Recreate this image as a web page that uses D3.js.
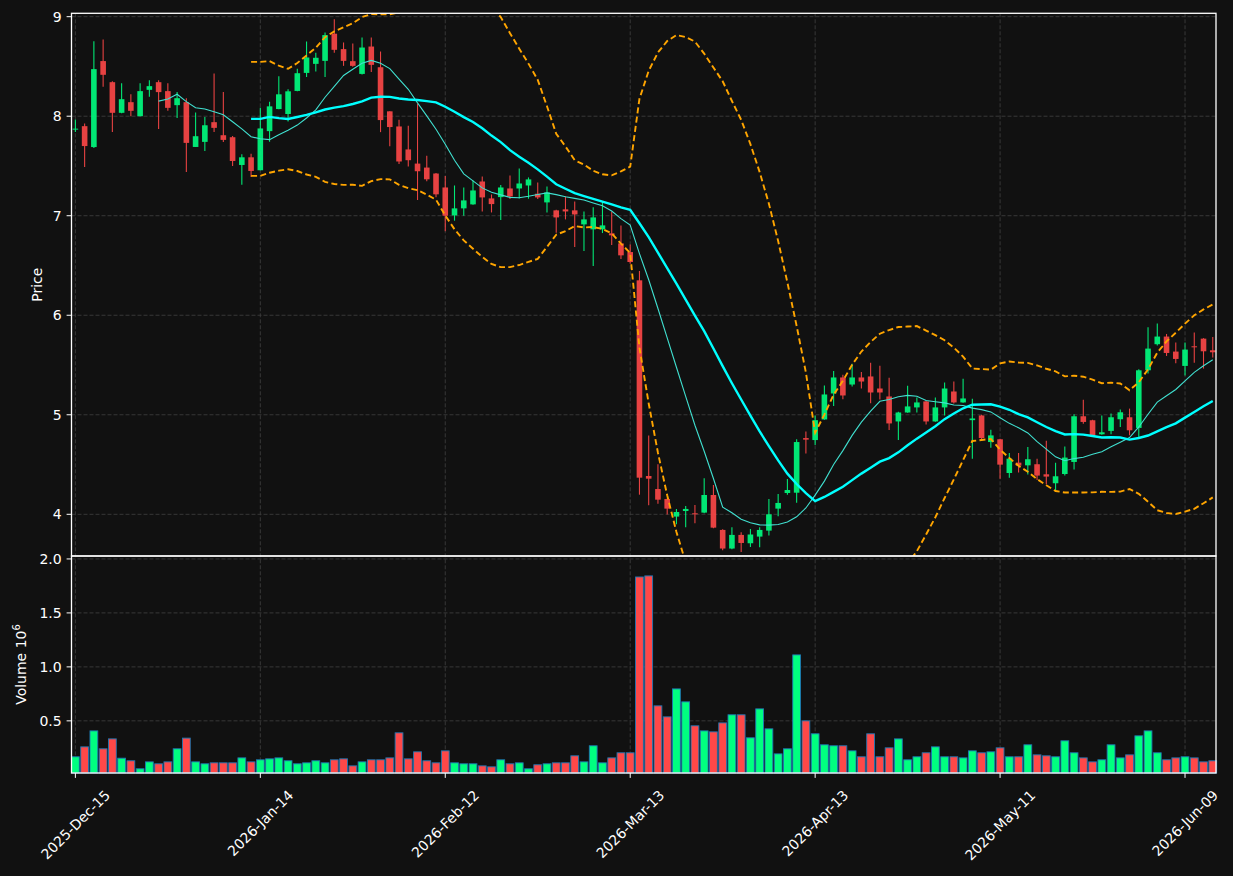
<!DOCTYPE html>
<html>
<head>
<meta charset="utf-8">
<script src="https://cdn.jsdelivr.net/npm/d3@7"></script>
<style>
html, body { margin: 0; padding: 0; background: #111111; }
svg { display: block; font-family: "DejaVu Sans", sans-serif; }
</style>
</head>
<body>
<svg id="chart" width="1233" height="876"></svg>
<script>
// daily candles, one entry per trading day (index 0 = 2025-Dec-15)
var opens = [7.87,7.90,7.69,8.554,8.342,8.034,8.141,8.0,8.265,8.342,
  8.252,8.111,8.141,7.691,7.742,7.94,7.809,7.789,7.51,7.587,
  7.457,7.85,8.072,8.022,8.254,8.435,8.526,8.556,8.829,8.674,
  8.553,8.425,8.70,8.492,8.049,7.897,7.666,7.524,7.484,7.424,
  7.284,7.003,7.074,7.114,7.344,7.174,7.187,7.274,7.274,7.304,
  7.221,7.134,7.054,7.064,7.054,6.913,6.863,6.863,6.823,6.722,
  6.635,6.351,4.385,4.254,4.154,3.977,4.033,4.010,4.017,4.194,
  3.843,3.656,3.793,3.709,3.776,3.836,4.057,4.214,4.217,4.766,
  4.746,4.953,5.214,5.375,5.304,5.375,5.385,5.264,5.184,4.933,
  5.023,5.074,5.134,4.933,5.074,5.234,5.124,4.946,4.993,4.726,
  4.754,4.415,4.519,4.492,4.503,4.402,4.312,4.405,4.526,4.985,
  4.945,4.804,4.838,4.955,4.975,4.868,5.447,5.709,5.786,5.635,
  5.491,5.688,5.765,5.648];
var highs = [7.966,7.926,8.752,8.772,8.35,8.332,8.221,8.332,8.362,8.362,
  8.332,8.242,8.181,8.037,7.993,8.43,8.242,7.80,7.617,7.624,
  8.086,8.146,8.402,8.27,8.476,8.751,8.637,8.842,8.973,8.741,
  8.731,8.79,8.79,8.65,8.05,7.965,7.904,8.126,7.602,7.43,
  7.398,7.304,7.284,7.355,7.395,7.214,7.308,7.405,7.475,7.385,
  7.334,7.294,7.06,7.194,7.144,7.043,7.084,7.144,7.043,6.903,
  6.712,6.445,4.793,4.502,4.16,4.054,4.084,4.094,4.361,4.294,
  3.85,3.87,3.82,3.853,3.87,4.154,4.204,4.355,4.753,4.833,
  4.993,5.294,5.441,5.401,5.512,5.431,5.522,5.492,5.371,5.03,
  5.291,5.174,5.14,5.174,5.324,5.334,5.361,5.161,5.0,4.849,
  4.76,4.616,4.616,4.677,4.559,4.74,4.519,4.68,5.005,5.152,
  4.95,4.992,5.012,5.052,5.062,5.457,5.879,5.916,5.812,5.725,
  5.725,5.826,5.77,5.782];
var lows = [7.842,7.49,7.68,8.295,7.842,8.03,8.0,8.0,8.195,7.872,
  8.054,7.983,7.44,7.69,7.651,7.842,7.742,7.50,7.312,7.389,
  7.457,7.743,8.07,7.948,8.25,8.395,8.449,8.395,8.637,8.506,
  8.496,8.418,8.445,7.84,7.699,7.521,7.494,7.158,7.346,7.185,
  6.845,6.95,7.0,7.11,7.043,7.033,6.957,7.167,7.174,7.171,
  7.167,7.033,6.829,6.963,6.686,6.645,6.495,6.826,6.706,6.565,
  6.518,4.197,4.09,4.107,3.997,3.90,3.87,3.91,4.01,3.86,
  3.64,3.65,3.62,3.672,3.67,3.786,3.98,4.197,4.117,4.612,
  4.696,4.95,5.087,5.157,5.284,5.264,5.117,5.154,4.846,4.746,
  5.02,5.023,4.903,4.93,4.993,5.114,5.12,4.559,4.742,4.669,
  4.358,4.368,4.419,4.40,4.345,4.302,4.241,4.389,4.449,4.911,
  4.777,4.80,4.804,4.878,4.794,4.777,5.414,5.695,5.591,5.518,
  5.394,5.524,5.464,5.575];
var closes = [7.875,7.70,8.473,8.416,8.034,8.171,8.054,8.252,8.302,8.242,
  8.084,8.181,7.732,7.799,7.909,7.883,7.762,7.55,7.587,7.45,
  7.877,8.099,8.22,8.25,8.432,8.59,8.587,8.815,8.667,8.556,
  8.506,8.69,8.516,7.961,7.891,7.545,7.558,7.447,7.366,7.215,
  7.0,7.074,7.154,7.254,7.184,7.117,7.284,7.194,7.324,7.365,
  7.184,7.234,6.983,7.043,7.013,6.963,6.983,6.903,6.803,6.602,
  6.535,4.368,4.358,4.147,4.057,4.023,4.054,4.0,4.194,3.866,
  3.656,3.793,3.712,3.797,3.843,4.0,4.114,4.244,4.726,4.75,
  4.946,5.204,5.375,5.194,5.375,5.334,5.224,5.224,4.913,5.023,
  5.084,5.124,4.933,5.074,5.264,5.124,5.164,4.963,4.766,4.793,
  4.499,4.559,4.489,4.553,4.389,4.379,4.382,4.570,4.985,4.928,
  4.794,4.824,4.975,5.025,4.844,5.447,5.665,5.786,5.621,5.561,
  5.655,5.678,5.638,5.628];
// volume in millions
var volumes = [0.167,0.259,0.407,0.241,0.333,0.154,0.130,0.056,0.120,0.102,
  0.120,0.241,0.340,0.120,0.102,0.111,0.111,0.111,0.157,0.120,
  0.139,0.148,0.157,0.130,0.102,0.111,0.130,0.111,0.139,0.148,
  0.083,0.120,0.139,0.139,0.157,0.389,0.148,0.213,0.130,0.111,
  0.222,0.111,0.102,0.102,0.083,0.074,0.139,0.102,0.111,0.056,
  0.093,0.102,0.111,0.111,0.176,0.120,0.269,0.111,0.157,0.204,
  0.204,1.833,1.843,0.639,0.537,0.796,0.676,0.454,0.407,0.398,
  0.481,0.556,0.556,0.343,0.611,0.426,0.194,0.241,1.111,0.500,
  0.380,0.278,0.269,0.269,0.222,0.167,0.380,0.167,0.250,0.333,
  0.139,0.167,0.204,0.259,0.167,0.167,0.157,0.222,0.204,0.213,
  0.250,0.167,0.167,0.278,0.185,0.176,0.167,0.315,0.204,0.157,
  0.120,0.139,0.278,0.157,0.185,0.361,0.407,0.204,0.139,0.157,
  0.167,0.157,0.120,0.130];

var tickIdx = [0, 20, 40, 60, 80, 100, 120];
var tickLabels = ["2025-Dec-15", "2026-Jan-14", "2026-Feb-12", "2026-Mar-13",
  "2026-Apr-13", "2026-May-11", "2026-Jun-09"];
var priceTicks = [4, 5, 6, 7, 8, 9];
var volTicks = [0.5, 1.0, 1.5, 2.0];

var upColor = "#00ff80", downColor = "#ff4848";

var svg = d3.select("#chart");
var W = 1233, H = 876;
svg.append("rect").attr("width", W).attr("height", H).attr("fill", "#111111");

var left = 71.5, right = 1216;
var pTop = 13.3, pBot = 556, vTop = 556, vBot = 773;

var n = closes.length;
var candles = d3.range(n).map(function (i) {
    return { i: i, o: opens[i], h: highs[i], l: lows[i], c: closes[i], v: volumes[i] };
});

var x = d3.scaleLinear().domain([-0.42, 123.35]).range([left, right]);
var yP = d3.scaleLinear().domain([3.581, 9.034]).range([pBot, pTop]);
var yV = d3.scaleLinear()
    .domain([d3.min(volumes) * 0.3, d3.max(volumes) * 1.1])
    .range([vBot, vTop]);

// moving averages and bands on the close
function rolling(arr, win, fn) {
    return arr.map(function (v, i) {
        return i < win - 1 ? null : fn(arr.slice(i - win + 1, i + 1));
    });
}
var ma10 = rolling(closes, 10, d3.mean);
var ma20 = rolling(closes, 20, d3.mean);
var sd20 = rolling(closes, 20, function (w) {
    var m = d3.mean(w);
    return Math.sqrt(d3.mean(w, function (v) { return (v - m) * (v - m); }));
});
var bbUp = ma20.map(function (m, i) { return m == null ? null : m + 2 * sd20[i]; });
var bbLo = ma20.map(function (m, i) { return m == null ? null : m - 2 * sd20[i]; });

var defs = svg.append("defs");
defs.append("clipPath").attr("id", "clipP").append("rect")
    .attr("x", left).attr("y", pTop).attr("width", right - left).attr("height", pBot - pTop);

var gridColor = "#3c3c3c";

// grid
var grid = svg.append("g");
priceTicks.forEach(function (t) {
    grid.append("line").attr("x1", left).attr("x2", right)
        .attr("y1", yP(t)).attr("y2", yP(t));
});
volTicks.forEach(function (t) {
    grid.append("line").attr("x1", left).attr("x2", right)
        .attr("y1", yV(t)).attr("y2", yV(t));
});
tickIdx.forEach(function (t) {
    grid.append("line").attr("x1", x(t)).attr("x2", x(t))
        .attr("y1", pTop).attr("y2", vBot);
});
grid.selectAll("line").attr("stroke", gridColor).attr("stroke-width", 0.9)
    .attr("stroke-dasharray", "4,2");

// candles
var cg = svg.append("g").attr("clip-path", "url(#clipP)");
var bw = 5.6;
var cand = cg.selectAll(".candle").data(candles).enter().append("g")
    .attr("class", "candle")
    .attr("opacity", 0.9);
cand.append("line")
    .attr("x1", function (d) { return x(d.i); })
    .attr("x2", function (d) { return x(d.i); })
    .attr("y1", function (d) { return yP(d.h); })
    .attr("y2", function (d) { return yP(d.l); })
    .attr("stroke", function (d) { return d.c >= d.o ? upColor : downColor; })
    .attr("stroke-width", 1.1);
cand.append("rect")
    .attr("x", function (d) { return x(d.i) - bw / 2; })
    .attr("width", bw)
    .attr("y", function (d) { return yP(Math.max(d.o, d.c)); })
    .attr("height", function (d) { return Math.max(1, Math.abs(yP(d.o) - yP(d.c))); })
    .attr("fill", function (d) { return d.c >= d.o ? upColor : downColor; });

// indicator lines
function lineOf(arr) {
    return d3.line()
        .defined(function (d) { return d != null; })
        .x(function (d, i) { return x(i); })
        .y(function (d) { return yP(d); })(arr);
}
cg.append("path").attr("d", lineOf(ma10)).attr("fill", "none")
    .attr("stroke", "#40e0d0").attr("stroke-width", 1.1);
cg.append("path").attr("d", lineOf(ma20)).attr("fill", "none")
    .attr("stroke", "#00ffff").attr("stroke-width", 2.4);
[bbUp, bbLo].forEach(function (b) {
    cg.append("path").attr("d", lineOf(b)).attr("fill", "none")
        .attr("stroke", "#ffa500").attr("stroke-width", 1.9)
        .attr("stroke-dasharray", "6,3.3");
});

// volume bars
var vbw = 7.8;
svg.append("g").selectAll("rect").data(candles).enter().append("rect")
    .attr("x", function (d) { return x(d.i) - vbw / 2; })
    .attr("width", vbw)
    .attr("y", function (d) { return yV(d.v); })
    .attr("height", function (d) { return vBot - yV(d.v); })
    .attr("fill", function (d) { return d.c >= d.o ? upColor : downColor; })
    .attr("stroke", "#1f77b4")
    .attr("stroke-width", 0.9);

// frames
var frame = svg.append("g").attr("fill", "none").attr("stroke", "#ffffff").attr("stroke-width", 1.3);
frame.append("rect").attr("x", left).attr("y", pTop).attr("width", right - left).attr("height", pBot - pTop);
frame.append("rect").attr("x", left).attr("y", vTop).attr("width", right - left).attr("height", vBot - vTop);

// y axes
var axG = svg.append("g").attr("fill", "#ffffff").attr("font-size", 14);
function yTicks(ticks, scale, fmt) {
    ticks.forEach(function (t) {
        var yy = scale(t);
        axG.append("line").attr("x1", left - 4.9).attr("x2", left)
            .attr("y1", yy).attr("y2", yy).attr("stroke", "#ffffff").attr("stroke-width", 1);
        axG.append("text").attr("x", left - 9.8).attr("y", yy)
            .attr("text-anchor", "end").attr("dominant-baseline", "central")
            .text(fmt(t));
    });
}
yTicks(priceTicks, yP, d3.format("d"));
yTicks(volTicks, yV, d3.format(".1f"));

axG.append("text")
    .attr("transform", "translate(37," + ((pTop + pBot) / 2) + ") rotate(-90)")
    .attr("text-anchor", "middle").attr("dominant-baseline", "central")
    .text("Price");
var vl = axG.append("text")
    .attr("transform", "translate(25.5," + ((vTop + vBot) / 2) + ") rotate(-90)")
    .attr("text-anchor", "middle");
vl.append("tspan").text("Volume  10");
vl.append("tspan").attr("font-size", 10).attr("dy", -6).text("6");

// x axis
tickIdx.forEach(function (t, k) {
    var xx = x(t);
    axG.append("line").attr("x1", xx).attr("x2", xx)
        .attr("y1", vBot).attr("y2", vBot + 4.9).attr("stroke", "#ffffff").attr("stroke-width", 1);
    var tx = axG.append("text").attr("text-anchor", "middle")
        .attr("dominant-baseline", "central").text(tickLabels[k]);
    var L = tx.node().getComputedTextLength();
    var cy = 788 + (L + 13) * 0.3536;
    tx.attr("transform", "translate(" + xx + "," + cy + ") rotate(-45)");
});
</script>
</body>
</html>
